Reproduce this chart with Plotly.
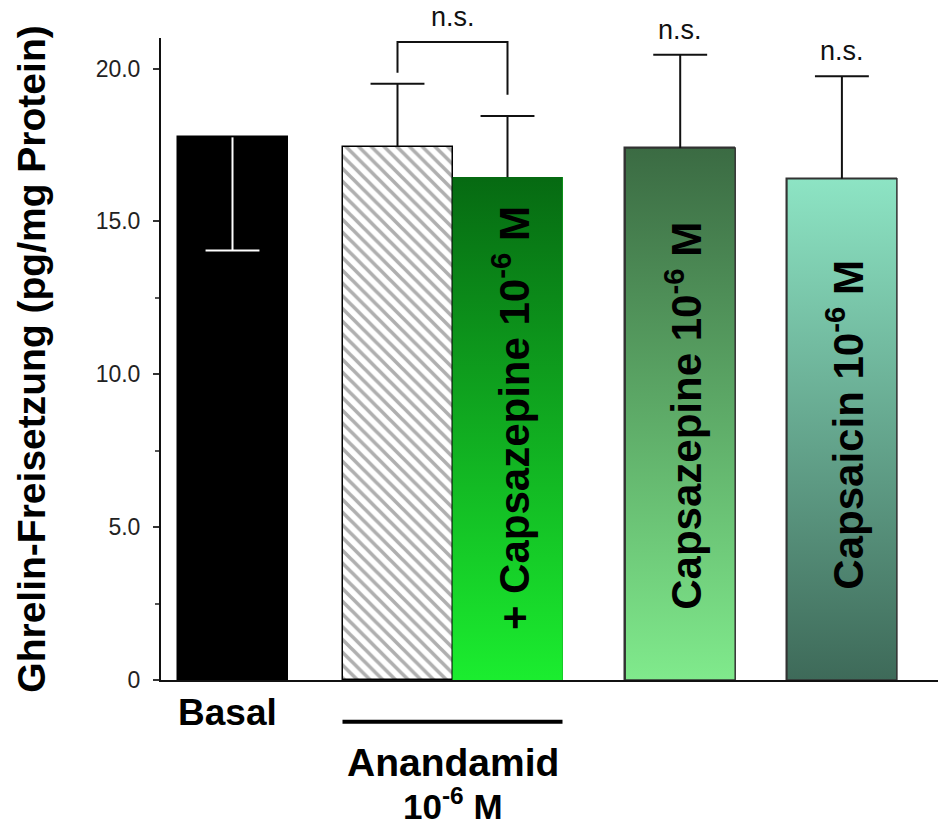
import plotly.graph_objects as go

# ---- data -------------------------------------------------------------
groups = ["Basal", "Anandamid", "Anandamid + Capsazepine", "Capsazepine", "Capsaicin"]
means = [17.75, 17.45, 16.45, 17.4, 16.4]
sd_upper = [0.0, 2.05, 2.0, 3.05, 3.35]
sd_lower = [3.7, 0.0, 0.0, 0.0, 0.0]
bar_labels = ["", "", "+ Capsazepine 10<sup>-6</sup> M",
              "Capsazepine 10<sup>-6</sup> M", "Capsaicin 10<sup>-6</sup> M"]
y_tickvals = [0, 5, 10, 15, 20]
y_ticktext = ["0", "5.0", "10.0", "15.0", "20.0"]
y_minor = [2.5, 7.5, 12.5]

# ---- layout constants -------------------------------------------------
xpos = [0.0, 1.5, 2.5, 4.07, 5.54]
bw = 1.0
FONT = "Liberation Sans, Arial, sans-serif"

# gradient fills (bottom colour, top colour)
gradients = {
    2: ("#1bed2f", "#066a12"),
    3: ("#80ea8c", "#3b6b43"),
    4: ("#3e6a59", "#8de4c4"),
}
solid = ["#000000", "#ffffff", "#12b020", "#5fae68", "#66a890"]

fig = go.Figure()

# plain bars
for i in range(len(groups)):
    pattern = dict(shape="\\", fgcolor="#606060", bgcolor="#ffffff",
                   size=9, solidity=0.4) if i == 1 else None
    fig.add_trace(go.Bar(
        x=[xpos[i]], y=[means[i]], width=bw, name=groups[i],
        marker=dict(color=solid[i],
                    line=dict(color="#000000" if i < 2 else "#333333",
                              width=1.5 if i != 2 else 0),
                    pattern=pattern),
        showlegend=False, hoverinfo="skip"))

# gradient overlays
for i, (c_bot, c_top) in gradients.items():
    x0, x1 = xpos[i] - bw / 2, xpos[i] + bw / 2
    fig.add_trace(go.Scatter(
        x=[x0, x1, x1, x0, x0], y=[0, 0, means[i], means[i], 0],
        mode="lines", fill="toself",
        fillgradient=dict(type="vertical",
                          colorscale=[[0, c_bot], [1, c_top]]),
        line=dict(color="#333333" if i != 2 else "rgba(0,0,0,0)", width=1.5),
        showlegend=False, hoverinfo="skip"))

# error bars
CAP = 0.245


def err_lines(idx, up):
    X, Y = [], []
    for i in idx:
        x = xpos[i]
        a = means[i]
        b = means[i] + sd_upper[i] if up else means[i] - sd_lower[i]
        X += [x, x, None, x - CAP, x + CAP, None]
        Y += [a, b, None, b, b, None]
    return X, Y


X, Y = err_lines([0], up=False)
fig.add_trace(go.Scatter(x=X, y=Y, mode="lines",
                         line=dict(color="#ffffff", width=2),
                         showlegend=False, hoverinfo="skip"))
X, Y = err_lines([1, 2, 3, 4], up=True)
fig.add_trace(go.Scatter(x=X, y=Y, mode="lines",
                         line=dict(color="#111111", width=2),
                         showlegend=False, hoverinfo="skip"))

# significance bracket between the two Anandamid bars
top1 = means[1] + sd_upper[1]
top2 = means[2] + sd_upper[2]
br_top = max(top1, top2) + 1.37
fig.add_trace(go.Scatter(
    x=[xpos[1], xpos[1], xpos[2], xpos[2]],
    y=[top1 + 0.36, br_top, br_top, top2 + 0.69],
    mode="lines", line=dict(color="#111111", width=2),
    showlegend=False, hoverinfo="skip"))

ns_font = dict(family=FONT, size=27, color="#111111")
for x, y in [((xpos[1] + xpos[2]) / 2, br_top),
             (xpos[3], means[3] + sd_upper[3]),
             (xpos[4], means[4] + sd_upper[4])]:
    fig.add_annotation(x=x, y=y, text="n.s.", showarrow=False,
                       xanchor="center", yanchor="bottom", yshift=8,
                       font=ns_font)

# vertical labels inside the coloured bars
label_y = {2: 8.55, 3: 8.65, 4: 8.35}
for i, ly in label_y.items():
    fig.add_annotation(x=xpos[i], y=ly, text=bar_labels[i], textangle=-90,
                       showarrow=False, xshift=3,
                       font=dict(family=FONT, size=42, color="#000000",
                                 weight="bold"))

# category labels below the axis
fig.add_annotation(x=xpos[0], y=0, yref="y", text="Basal", showarrow=False,
                   yanchor="middle", yshift=-32, xshift=-5,
                   font=dict(family=FONT, size=37, color="#000000",
                             weight="bold"))
fig.add_shape(type="line", xref="x", yref="paper",
              x0=xpos[1] - bw / 2, x1=xpos[2] + bw / 2,
              y0=-0.065, y1=-0.065, line=dict(color="#000000", width=4))
fig.add_annotation(x=(xpos[1] + xpos[2]) / 2, y=0, yref="y",
                   text="Anandamid", showarrow=False, yanchor="middle",
                   yshift=-82,
                   font=dict(family=FONT, size=39, color="#000000",
                             weight="bold"))
fig.add_annotation(x=(xpos[1] + xpos[2]) / 2, y=0, yref="y",
                   text="10<sup>-6</sup> M", showarrow=False,
                   yanchor="middle", yshift=-124,
                   font=dict(family=FONT, size=35, color="#000000",
                             weight="bold"))

fig.update_layout(
    width=938, height=828,
    margin=dict(l=161, r=0, t=38, b=148),
    paper_bgcolor="#ffffff", plot_bgcolor="#ffffff",
    bargap=0, barmode="overlay",
    xaxis=dict(range=[-0.65, -0.65 + 777 / 110], showgrid=False,
               zeroline=False, showticklabels=False, ticks="",
               showline=True, linecolor="#111111", linewidth=2),
    yaxis=dict(range=[0, 21], showgrid=False, zeroline=False,
               tickmode="array", tickvals=y_tickvals, ticktext=y_ticktext,
               ticks="outside", ticklen=6, tickwidth=1.5,
               tickcolor="#333333",
               minor=dict(tickmode="array", tickvals=y_minor,
                          ticks="outside", ticklen=4, tickwidth=1.5,
                          tickcolor="#555555"),
               ticklabelstandoff=8,
               tickfont=dict(family=FONT, size=23, color="#222222"),
               showline=True, linecolor="#111111", linewidth=2,
               title=dict(text="Ghrelin-Freisetzung (pg/mg Protein)",
                          font=dict(family=FONT, size=39, color="#000000",
                                    weight="bold"),
                          standoff=38)),
)

fig.write_html("out.html")
